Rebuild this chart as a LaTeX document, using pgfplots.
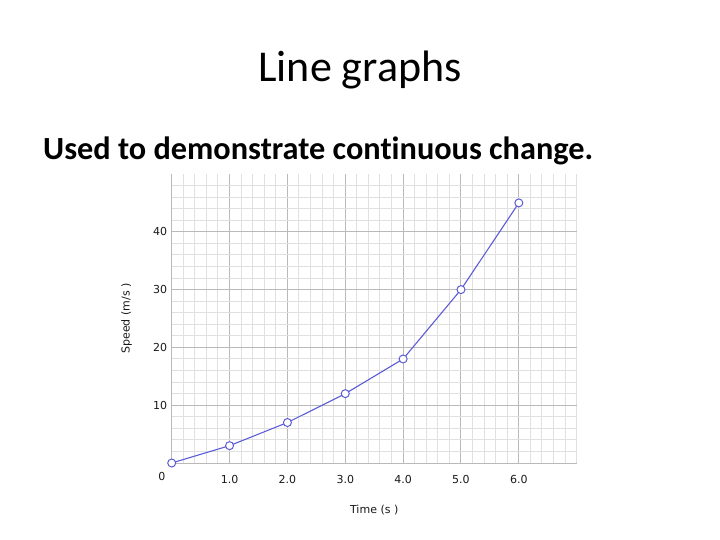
\documentclass[border=0pt]{standalone}
\usepackage{pgfplots}
\pgfplotsset{compat=1.18}
\usepackage{fontspec}
\setmainfont{Carlito}[Ligatures=NoCommon]
\newfontfamily\tickfont{DejaVu Sans}
\definecolor{lineblue}{RGB}{92,92,214}
\begin{document}
\begin{tikzpicture}[x=1pt,y=1pt]
\path[use as bounding box] (0,0) rectangle (720,-540);
\node[anchor=base,font=\fontsize{44}{50}\selectfont] at (360,-82) {Line graphs};
\node[anchor=base west,inner sep=0pt,font=\fontsize{32.3}{36}\selectfont\bfseries] at (43,-160) {Used to demonstrate continuous change.};
\begin{axis}[
  at={(171.7pt,-463pt)}, anchor=south west,
  scale only axis, width=405pt, height=289pt,
  xmin=0, xmax=7, ymin=0, ymax=50,
  clip=false,
  axis line style={draw=none},
  xtick={0,1,2,3,4,5,6}, xticklabels={,1.0,2.0,3.0,4.0,5.0,6.0},
  ytick={0,10,20,30,40}, yticklabels={,10,20,30,40},
  minor xtick={0.2,0.4,0.6,0.8,1.2,1.4,1.6,1.8,2.2,2.4,2.6,2.8,3.2,3.4,3.6,3.8,4.2,4.4,4.6,4.8,5.2,5.4,5.6,5.8,6.2,6.4,6.6,6.8,7},
  minor ytick={2,4,6,8,12,14,16,18,22,24,26,28,32,34,36,38,42,44,46,48},
  grid=both,
  major grid style={gray!55, line width=1pt},
  minor grid style={gray!24, line width=1pt},
  major tick length=0pt, minor tick length=0pt,
  /pgf/number format/assume math mode=true,
  tick label style={font=\tickfont\fontsize{11}{12}\selectfont, text=black!90},
  xticklabel style={yshift=-9pt},
  yticklabel style={xshift=-1pt},
  xlabel={Time (s )}, ylabel={Speed (m/s )},
  label style={font=\tickfont\fontsize{11}{12}\selectfont, text=black!90},
  xlabel style={at={(axis description cs:0.5,0)}, anchor=base, yshift=-50pt, xshift=-0pt},
  ylabel style={at={(axis description cs:0,0.5)}, anchor=base, yshift=42pt},
]
\addplot[lineblue, line width=1.1pt, mark=*, mark size=4pt, mark options={fill=white, draw=lineblue, line width=1pt}]
  coordinates {(0,0) (1,3) (2,7) (3,12) (4,18) (5,30) (6,45)};
\node[font=\tickfont\fontsize{11}{12}\selectfont, text=black!90] at (axis cs:-0.17,-2.3) {0};
\end{axis}
\end{tikzpicture}
\end{document}
